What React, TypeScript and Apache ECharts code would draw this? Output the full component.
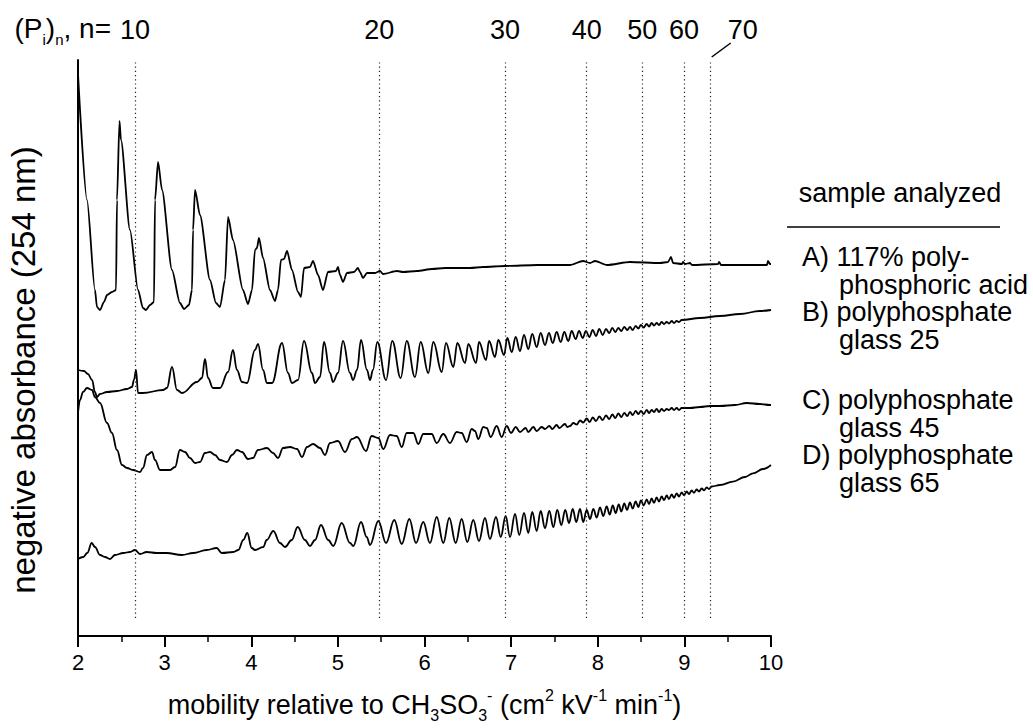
import React, { useEffect, useRef } from "react";
import * as echarts from "echarts";

// mobility axis (cm2 kV-1 min-1), tick values
const xTicks = [2, 3, 4, 5, 6, 7, 8, 9, 10];
// oligomer chain length markers and their mobilities
const oligomerN = [10, 20, 30, 40, 50, 60, 70];
const oligomerMobility = [2.658, 5.478, 6.929, 7.872, 8.514, 8.996, 9.304];

const sampleHeader = "sample analyzed";
const sampleLabels = [
  ["A) 117% poly-", "phosphoric acid"],
  ["B) polyphosphate", "glass 25"],
  ["C) polyphosphate", "glass 45"],
  ["D) polyphosphate", "glass 65"],
];

// traces: [mobility, negative absorbance (arbitrary, stacked)]
const traceA = [[2.000,562],[2.104,436],[2.196,346],[2.219,329],[2.254,326],[2.300,334],[2.335,341],[2.392,344],[2.439,346],[2.450,436],[2.479,515],[2.496,496],[2.600,406],[2.693,346],[2.750,328],[2.785,326],[2.831,331],[2.877,334],[2.889,436],[2.924,474],[2.970,446],[3.085,366],[3.177,333],[3.224,327],[3.281,331],[3.316,346],[3.328,406],[3.351,446],[3.408,421],[3.524,356],[3.593,333],[3.639,329],[3.697,356],[3.732,419],[3.789,396],[3.905,346],[3.962,332],[4.009,346],[4.043,386],[4.066,388],[4.089,398],[4.136,378],[4.216,346],[4.274,335],[4.309,346],[4.343,376],[4.378,377],[4.413,385],[4.470,366],[4.540,344],[4.574,339],[4.609,368],[4.678,369],[4.713,375],[4.771,361],[4.828,346],[4.886,364],[4.978,365],[5.001,369],[5.025,361],[5.059,354],[5.105,363],[5.186,364],[5.232,368],[5.255,364],[5.290,358],[5.336,363],[5.429,363],[5.486,365],[5.521,362],[5.683,365],[5.752,364],[5.913,365],[6.087,367],[6.237,368],[6.387,368],[6.525,368],[6.675,369],[6.929,370],[7.299,371],[7.680,371],[7.830,375],[7.911,373],[7.968,375],[8.107,371],[8.372,374],[8.719,373],[8.811,374],[8.846,379],[8.869,373],[8.973,372],[8.984,374],[9.007,372],[9.065,373],[9.088,371],[9.388,372],[9.400,374],[9.423,371],[9.954,371],[9.965,375],[9.988,372],[10.0,372]];

const traceB = [[2.000,266],[2.069,265],[2.115,262],[2.162,256],[2.196,244],[2.219,239],[2.254,242],[2.335,244],[2.450,245],[2.566,247],[2.623,249],[2.646,256],[2.670,266],[2.693,243],[2.750,243],[2.981,246],[3.027,248],[3.085,269],[3.143,246],[3.201,243],[3.374,254],[3.431,258],[3.466,277],[3.501,258],[3.558,248],[3.639,248],[3.732,264],[3.789,286],[3.835,266],[3.893,254],[3.951,253],[4.043,286],[4.078,292],[4.136,266],[4.182,253],[4.240,253],[4.355,293],[4.424,263],[4.470,253],[4.540,256],[4.609,295],[4.701,263],[4.736,253],[4.794,259],[4.840,294],[4.909,263],[4.944,254],[5.001,263],[5.059,295],[5.140,263],[5.175,256],[5.221,266],[5.267,296],[5.336,266],[5.371,256],[5.405,266],[5.455,294],[5.556,256],[5.628,295],[5.725,258],[5.795,295],[5.890,259],[5.956,294],[6.044,263],[6.102,294],[6.199,264],[6.248,293],[6.333,269],[6.379,293],[6.468,273],[6.506,292],[6.595,273],[6.629,294],[6.710,276],[6.745,295],[6.814,279],[6.852,296],[6.918,281],[6.956,298],[7.007,284],[7.053,299],[7.102,285],[7.149,301],[7.198,287],[7.244,302],[7.295,289],[7.341,303],[7.391,291],[7.437,303],[7.480,293],[7.526,304],[7.572,294],[7.614,304],[7.660,295],[7.699,305],[7.745,297],[7.784,305],[7.826,298],[7.864,305],[7.903,299],[7.942,306],[7.980,300],[8.018,307],[8.057,301],[8.095,307],[8.133,303],[8.168,308],[8.203,304],[8.237,308],[8.272,305],[8.306,309],[8.341,306],[8.372,309],[8.403,306],[8.438,310],[8.468,307.5],[8.499,311],[8.530,308.5],[8.565,312],[8.592,309.5],[8.623,313],[8.649,310.5],[8.680,313],[8.707,311],[8.738,314],[8.765,312],[8.796,314],[8.822,312.5],[8.854,315],[8.880,313],[8.911,315],[8.938,314],[8.969,316],[9.180,318],[9.411,320],[9.642,322],[9.873,325],[10.0,326]];

const traceC = [[2.000,223],[2.023,236],[2.058,244],[2.104,248],[2.162,246],[2.196,239],[2.254,233],[2.335,213],[2.392,203],[2.450,186],[2.508,171],[2.566,168],[2.635,166],[2.716,164],[2.750,168],[2.797,181],[2.854,184],[2.889,176],[2.947,166],[3.062,166],[3.120,169],[3.177,186],[3.235,184],[3.293,178],[3.351,173],[3.408,174],[3.466,183],[3.524,184],[3.582,181],[3.639,176],[3.720,174],[3.778,181],[3.835,186],[3.893,184],[3.962,177],[4.020,178],[4.078,186],[4.182,188],[4.251,183],[4.309,178],[4.367,188],[4.447,189],[4.528,187],[4.586,179],[4.644,189],[4.713,192],[4.794,188],[4.851,181],[4.909,193],[5.001,195],[5.082,184],[5.163,197],[5.221,199],[5.325,185],[5.390,200],[5.467,198],[5.524,187],[5.602,201],[5.679,200],[5.737,189],[5.795,203],[5.871,203],[5.928,192],[5.986,202],[6.083,202],[6.141,193],[6.217,202],[6.294,193],[6.372,204],[6.429,203],[6.487,194],[6.545,207],[6.583,205],[6.621,197],[6.679,209],[6.718,208],[6.764,199],[6.833,210],[6.891,199],[6.949,210],[6.999,203],[7.053,209],[7.102,204],[7.168,208],[7.198,204],[7.256,209],[7.295,205],[7.353,209],[7.391,207],[7.441,210],[7.475,207],[7.526,211],[7.556,208],[7.622,212],[7.648,209],[7.680,210],[7.718,213],[7.757,211.5],[7.795,215.5],[7.833,213.5],[7.872,217.5],[7.907,214],[7.942,218.5],[7.980,215],[8.018,219.5],[8.057,216],[8.095,220.5],[8.133,217],[8.168,221.5],[8.203,218],[8.237,222.5],[8.272,219],[8.306,223],[8.341,220],[8.372,224],[8.403,221],[8.438,225],[8.468,222],[8.499,225],[8.530,222],[8.565,226],[8.592,223],[8.623,226],[8.649,224],[8.680,227],[8.707,224],[8.738,227],[8.765,225],[8.796,227],[8.822,226],[8.854,228],[8.880,226],[8.911,228],[8.938,226],[8.969,228],[9.065,228],[9.180,229],[9.296,230],[9.411,230],[9.584,231],[9.720,233],[9.873,232],[9.988,231],[10.0,231]];

const traceD = [[2.000,77],[2.061,79],[2.107,83],[2.158,93],[2.196,89],[2.254,81],[2.312,79],[2.369,77],[2.427,81],[2.523,83],[2.600,84],[2.658,86],[2.716,82],[2.793,84],[2.909,83],[3.024,83],[3.197,81],[3.331,83],[3.486,86],[3.601,88],[3.659,83],[3.793,84],[3.851,86],[3.908,96],[3.954,103],[4.005,88],[4.043,86],[4.139,89],[4.178,96],[4.255,105],[4.332,93],[4.390,89],[4.467,96],[4.536,109],[4.620,96],[4.678,90],[4.736,96],[4.805,111],[4.889,96],[4.947,90],[5.044,113],[5.140,93],[5.178,90],[5.267,114],[5.333,99],[5.371,91],[5.467,115],[5.556,93],[5.651,116],[5.737,92],[5.825,117],[5.902,93],[5.986,114],[6.063,93],[6.141,119],[6.217,93],[6.286,118],[6.360,93],[6.429,117],[6.494,94],[6.563,116],[6.629,95],[6.698,118],[6.756,97],[6.825,119],[6.880,99],[6.937,120],[6.987,99],[7.045,122],[7.094,101],[7.149,123],[7.198,103],[7.244,124],[7.295,105],[7.341,125],[7.391,108],[7.441,125],[7.487,109],[7.533,126],[7.579,111],[7.625,126],[7.668,113],[7.711,127],[7.752,114],[7.795,127],[7.833,114],[7.872,126],[7.911,117],[7.949,127],[7.988,118.5],[8.026,128.5],[8.064,120],[8.103,129.5],[8.138,121.5],[8.173,130.5],[8.207,123],[8.242,131.5],[8.272,124.5],[8.306,132.5],[8.338,126],[8.372,133.5],[8.403,127.5],[8.438,134.5],[8.468,129],[8.499,135.5],[8.530,130.5],[8.565,136.5],[8.592,132],[8.623,137.5],[8.649,133.2],[8.680,138.5],[8.707,134.5],[8.738,139.5],[8.765,135.8],[8.796,140.5],[8.822,137],[8.854,141.5],[8.880,138.2],[8.911,142.5],[8.938,139.5],[8.969,143.5],[8.996,140.8],[9.027,144.5],[9.053,142],[9.085,145.5],[9.111,143.2],[9.142,146.5],[9.169,144.5],[9.200,147.5],[9.227,145.7],[9.258,148.5],[9.284,147],[9.315,149.5],[9.411,151],[9.561,154.3],[9.700,159],[9.792,162.7],[9.908,167],[10.0,171]];

const FONT = "'Liberation Sans', Arial, Helvetica, sans-serif";

export default function App() {
  const ref = useRef<HTMLDivElement>(null);

  useEffect(() => {
    document.body.style.margin = "0";
    const chart = echarts.init(ref.current!, null, { renderer: "svg" });

    const traceSeries = (data: number[][], smooth: number, withMarks: boolean) => {
      const s: any = {
        type: "line",
        data,
        symbol: "none",
        showSymbol: false,
        silent: true,
        smooth,
        smoothMonotone: "x",
        lineStyle: { color: "#000", width: 1.8 },
        z: 3,
      };
      if (withMarks) {
        s.markLine = {
          silent: true,
          symbol: ["none", "none"],
          animation: false,
          lineStyle: { type: [1.2, 3], color: "#222", width: 1.2 },
          emphasis: { disabled: true },
          label: {
            show: true,
            position: "end",
            distance: 17,
            fontSize: 27,
            fontFamily: FONT,
            color: "#000",
            formatter: (p: any) => String(oligomerN[p.dataIndex]),
          },
          data: oligomerMobility.map((m, i) => [
            i === oligomerN.length - 1
              ? { coord: [m, 18], label: { offset: [32, 0] } }
              : { coord: [m, 18] },
            { coord: [m, 576] },
          ]),
        };
      }
      return s;
    };

    const subStyle = { fontSize: 16, lineHeight: 12, verticalAlign: "bottom", fontFamily: FONT, color: "#000" };
    const supStyle = { fontSize: 16, lineHeight: 14, verticalAlign: "top", fontFamily: FONT, color: "#000" };

    chart.setOption({
      animation: false,
      grid: { left: 78, right: 262, top: 60, bottom: 92 },
      xAxis: {
        type: "value",
        min: xTicks[0],
        max: xTicks[xTicks.length - 1],
        interval: 1,
        axisLine: { show: true, onZero: false, lineStyle: { color: "#000", width: 2 } },
        axisTick: { show: true, inside: false, length: 11, lineStyle: { color: "#000", width: 2 } },
        minorTick: { show: true, splitNumber: 2, length: 6, lineStyle: { color: "#000", width: 1.5 } },
        axisLabel: { color: "#000", fontSize: 22, fontFamily: FONT, margin: 15 },
        splitLine: { show: false },
        name: "mobility relative to CH{sub|3}SO{sub|3}{sup|-} (cm{sup|2} kV{sup|-1} min{sup|-1})",
        nameLocation: "middle",
        nameGap: 51,
        nameTextStyle: {
          fontSize: 27,
          fontFamily: FONT,
          color: "#000",
          lineHeight: 36,
          rich: { sub: subStyle, sup: supStyle },
        },
      },
      yAxis: {
        type: "value",
        min: 0,
        max: 576,
        axisLine: { show: true, onZero: false, lineStyle: { color: "#000", width: 2 } },
        axisTick: { show: false },
        axisLabel: { show: false },
        splitLine: { show: false },
      },
      series: [
        traceSeries(traceA, 0.25, true),
        traceSeries(traceB, 0.4, false),
        traceSeries(traceC, 0.4, false),
        traceSeries(traceD, 0.4, false),
      ],
    });

    const p10 = chart.convertToPixel({ gridIndex: 0 }, [oligomerMobility[0], 576]) as number[];
    const p70 = chart.convertToPixel({ gridIndex: 0 }, [oligomerMobility[6], 576]) as number[];

    const textEl = (text: string, x: number, y: number, align: string, size = 27) => ({
      type: "text",
      x,
      y,
      silent: true,
      style: { text, fill: "#000", fontSize: size, fontFamily: FONT, align, verticalAlign: "middle" },
    });

    const legendY = [[257, 285], [312, 340], [400, 428], [455, 483]];
    const graphic: any[] = [
      {
        type: "text",
        x: 23,
        y: 370,
        rotation: Math.PI / 2,
        silent: true,
        style: {
          text: "negative absorbance (254 nm)",
          fill: "#000",
          fontSize: 33,
          fontFamily: FONT,
          align: "center",
          verticalAlign: "middle",
        },
      },
      {
        type: "text",
        x: p10[0] - 24,
        y: 28,
        silent: true,
        style: {
          text: "{m|(P}{s|i}{m|)}{s|n}{m|, n=}",
          fill: "#000",
          align: "right",
          verticalAlign: "middle",
          rich: {
            m: { fontSize: 28, lineHeight: 38, fontFamily: FONT, color: "#000" },
            s: { fontSize: 15, lineHeight: 12, verticalAlign: "bottom", fontFamily: FONT, color: "#000" },
          },
        },
      },
      {
        type: "line",
        silent: true,
        shape: { x1: p70[0] + 1, y1: p70[1] - 3, x2: p70[0] + 20, y2: p70[1] - 17 },
        style: { stroke: "#000", lineWidth: 1.5 },
      },
      textEl(sampleHeader, 900, 193, "center"),
      {
        type: "line",
        silent: true,
        shape: { x1: 787, y1: 227, x2: 1000, y2: 227 },
        style: { stroke: "#000", lineWidth: 1.5 },
      },
    ];
    sampleLabels.forEach((lines, i) => {
      graphic.push(textEl(lines[0], 802, legendY[i][0], "left"));
      graphic.push(textEl(lines[1], 839, legendY[i][1], "left"));
    });
    chart.setOption({ graphic });

    return () => chart.dispose();
  }, []);

  return <div ref={ref} style={{ width: 1033, height: 728 }} />;
}
